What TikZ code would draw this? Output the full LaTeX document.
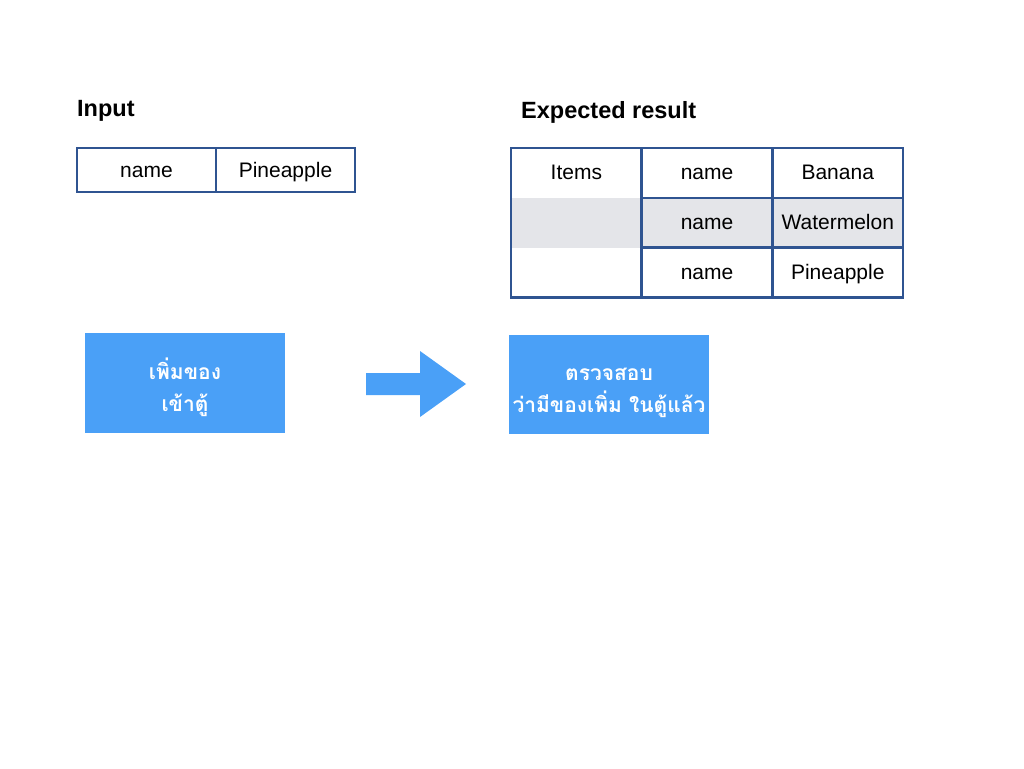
\documentclass[tikz,border=0pt]{standalone}
\usepackage{fontspec}
\setmainfont{Liberation Sans}
\newfontfamily\thaifont[Script=Thai]{Loma}
\usetikzlibrary{positioning}
\definecolor{boxblue}{RGB}{74, 160, 247}
\definecolor{tableblue}{RGB}{47, 84, 145}
\definecolor{rowgrey}{RGB}{228, 229, 233}

\tikzset{
  cell/.style={draw=tableblue, line width=2.5pt, outer sep=0pt, inner sep=0pt, minimum width=130.7pt, minimum height=49.8pt, text height=15pt, text depth=1pt, font=\fontsize{21}{25}\selectfont},
  title/.style={anchor=base west, inner sep=0pt, font=\bfseries\fontsize{23.5}{28}\selectfont},
  stepbox/.style={fill=boxblue, text=white, align=center, inner sep=0pt, minimum width=200pt, minimum height=100pt, font=\thaifont\bfseries\fontsize{21}{32}\selectfont}
}

\begin{document}
\begin{tikzpicture}[x=1pt, y=-1pt]
  \useasboundingbox (0,0) rectangle (1024,768);

  % Input
  \node[title] (in-title) at (77,116.5) {Input};
  \node[cell, minimum width=139pt, minimum height=44pt, anchor=north west] (in-key) at (77,148) {name};
  \node[cell, minimum width=139pt, minimum height=44pt, right=0pt of in-key] (in-val) {Pineapple};

  % Expected result
  \node[title] (ex-title) at (521,118) {Expected result};
  \fill[rowgrey] (511,198) rectangle (641,248);
  \node[cell, minimum height=149.4pt, anchor=north west] (ex-col) at (511,148) {};
  \node[cell, draw=none, below=0pt of ex-col.north] (ex-items) {Items};
  \node[cell, anchor=north west] (ex-name1) at (ex-col.north east) {name};
  \node[cell, right=0pt of ex-name1] (ex-val1) {Banana};
  \node[cell, fill=rowgrey, below=0pt of ex-name1] (ex-name2) {name};
  \node[cell, fill=rowgrey, right=0pt of ex-name2] (ex-val2) {Watermelon};
  \node[cell, below=0pt of ex-name2] (ex-name3) {name};
  \node[cell, right=0pt of ex-name3] (ex-val3) {Pineapple};

  % Steps
  \node[stepbox] (add-item) at (185,383) {\rule{0pt}{30pt}เพิ่มของ\\เข้าตู้};
  \node[stepbox, minimum height=99pt] (check-item) at (609,384.5) {\rule{0pt}{30pt}ตรวจสอบ\\ว่ามีของเพิ่ม ในตู้แล้ว};

  % Arrow
  \fill[boxblue] (366,373) -- (420,373) -- (420,351) -- (466,384) -- (420,417) -- (420,395) -- (366,395) -- cycle;
\end{tikzpicture}
\end{document}
